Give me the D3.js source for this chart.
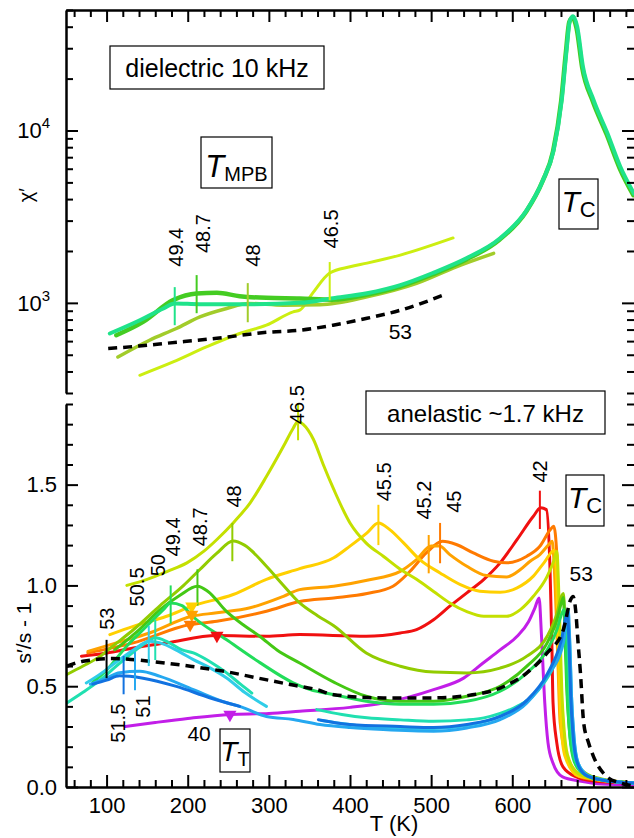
<!DOCTYPE html>
<html>
<head>
<meta charset="utf-8">
<script src="https://cdn.jsdelivr.net/npm/d3@7"></script>
<style>
  html, body { margin: 0; padding: 0; background: #fff; }
  svg { display: block; }
</style>
</head>
<body>
<svg id="chart" width="634" height="838"></svg>
<script>
// ---------------- data ----------------
const tempMajor = [100, 200, 300, 400, 500, 600, 700];
const tempMinor = d3.range(60, 750, 20).filter(t => t % 100 !== 0);
const chiMajor = [1000, 10000];
const chiMinor = [300,400,500,600,700,800,900,2000,3000,4000,5000,6000,7000,8000,9000,20000,30000,40000,50000];
const sMajor = [0, 0.5, 1.0, 1.5];
const sMinor = [0.1,0.2,0.3,0.4,0.6,0.7,0.8,0.9,1.1,1.2,1.3,1.4,1.6,1.7,1.8,1.9];

// dielectric susceptibility chi' at 10 kHz, [T (K), chi']
const dielMain = [[338,1013],[379,1065],[421,1138],[462,1268],[502,1490],[544,1820],[585,2370],[618,3460],[638,5170],[651,7700],[661,15070],[667,29500],[671,43400],[675,46000],[680,40000],[687,23550],[700,15070],[717,9700],[733,6180],[750,4300]];
const diel494 = [[104,664],[141,793],[170,928],[184,992],[215,983],[277,983],[338,1000]];
const diel487 = [[112,649],[145,776],[182,1037],[211,1134],[236,1143],[264,1094],[297,1069],[338,1060]];
const diel48  = [[114,485],[153,607],[186,710],[215,829],[248,928],[275,992],[318,970],[363,975],[421,1084],[482,1297],[531,1619],[577,1937]];
const diel465 = [[141,380],[182,454],[223,555],[264,664],[297,742],[330,887],[338,907],[354,1138],[375,1490],[400,1620],[421,1700],[462,1893],[527,2380]];
const diel53  = [[102,543],[140,562],[174,583],[236,623],[298,675],[338,694],[379,742],[421,814],[462,906],[515,1109]];

// anelastic s'/s - 1 at ~1.7 kHz, [T (K), value]
const anel40 = [[123,0.30],[160,0.32],[200,0.34],[252,0.36],[300,0.365],[338,0.376],[400,0.395],[441,0.417],[503,0.483],[540,0.54],[564,0.615],[585,0.68],[606,0.748],[620,0.82],[628,0.89],[633,0.938],[636,0.75],[640,0.42],[644,0.22],[650,0.12],[662,0.05],[683,0.03],[710,0.015],[750,0.01]];
const anel42 = [[69,0.649],[100,0.665],[133,0.69],[174,0.715],[236,0.751],[297,0.748],[338,0.756],[420,0.748],[462,0.764],[482,0.781],[503,0.83],[523,0.897],[544,0.963],[565,1.03],[585,1.112],[606,1.228],[626,1.343],[635,1.385],[642,1.376],[646.5,1.08],[648.6,0.75],[650.2,0.42],[654.8,0.22],[662.5,0.10],[679,0.05],[700,0.03],[750,0.02]];
const anel45 = [[77,0.665],[133,0.715],[203,0.806],[236,0.822],[297,0.872],[338,0.92],[380,0.938],[421,0.96],[453,0.996],[474,1.07],[494,1.161],[514,1.219],[531,1.203],[552,1.161],[577,1.12],[593,1.112],[618,1.145],[634,1.194],[647,1.277],[651,1.294],[655,1.145],[657,0.814],[659,0.483],[663,0.235],[671,0.103],[688,0.045],[750,0.02]];
const anel452 = [[77,0.673],[112,0.715],[153,0.764],[205,0.847],[236,0.864],[277,0.889],[318,0.946],[338,0.979],[380,0.996],[421,1.026],[462,1.07],[482,1.128],[500,1.195],[510,1.195],[523,1.153],[544,1.095],[568,1.049],[593,1.042],[610,1.079],[622,1.12],[634,1.153],[645,1.203],[649,1.219],[653,0.979],[656,0.649],[659,0.318],[667,0.152],[688,0.053],[750,0.02]];
const anel455 = [[104,0.756],[133,0.797],[174,0.847],[205,0.897],[256,0.955],[297,1.03],[338,1.083],[380,1.137],[400,1.195],[421,1.261],[435,1.31],[449,1.277],[466,1.211],[486,1.128],[511,1.062],[536,1.004],[560,0.971],[585,0.966],[606,0.988],[626,1.046],[639,1.112],[652,1.175],[655,0.979],[657,0.649],[660,0.318],[665,0.152],[682,0.053],[750,0.02]];
const anel465 = [[125,1.0],[150,1.03],[175,1.07],[199,1.112],[220,1.17],[236,1.228],[256,1.31],[277,1.41],[297,1.54],[318,1.69],[330,1.78],[336,1.815],[342,1.80],[355,1.724],[367,1.6],[380,1.476],[400,1.31],[420,1.21],[441,1.145],[462,1.08],[482,1.03],[503,0.97],[523,0.913],[544,0.87],[565,0.847],[593,0.847],[610,0.88],[626,0.946],[643,1.045],[651,1.12],[655,1.17],[657,1.0],[659,0.75],[661,0.48],[664,0.28],[668,0.16],[680,0.07],[700,0.04],[750,0.02]];
const anel48 = [[51,0.558],[71,0.60],[92,0.648],[108,0.70],[133,0.78],[166,0.9],[195,1.0],[215,1.079],[236,1.16],[256,1.22],[270,1.2],[297,1.095],[318,1.0],[338,0.913],[360,0.85],[380,0.80],[420,0.665],[462,0.599],[503,0.57],[544,0.566],[585,0.59],[618,0.649],[643,0.748],[655,0.86],[661,0.95],[663,0.96],[665,0.8],[667,0.6],[669,0.4],[672,0.25],[677,0.14],[690,0.07],[710,0.04],[750,0.02]];
const anel487 = [[110,0.68],[140,0.78],[166,0.88],[190,0.95],[212,0.996],[225,0.97],[248,0.87],[270,0.8],[289,0.747],[310,0.68],[338,0.615],[380,0.52],[420,0.45],[462,0.425],[503,0.425],[544,0.45],[585,0.5],[618,0.6],[643,0.715],[655,0.83],[661,0.92],[663,0.94],[665,0.75],[667,0.5],[670,0.3],[675,0.16],[685,0.08],[705,0.04],[750,0.02]];
const anel494 = [[83,0.52],[100,0.58],[125,0.70],[150,0.80],[170,0.88],[179,0.913],[193,0.9],[206,0.847],[248,0.73],[289,0.617],[330,0.517],[351,0.483],[380,0.458],[420,0.425],[462,0.41],[503,0.41],[544,0.425],[585,0.475],[618,0.566],[643,0.68],[655,0.78],[661,0.86],[664,0.88],[666,0.7],[668,0.45],[671,0.25],[676,0.13],[686,0.07],[705,0.04],[750,0.02]];
const anel50Low  = [[51,0.417],[71,0.47],[92,0.53],[112,0.6],[133,0.67],[150,0.72],[160,0.74],[175,0.72],[193,0.68],[207,0.665],[228,0.62],[248,0.566],[265,0.51],[279,0.466]];
const anel50High = [[359,0.384],[390,0.36],[421,0.343],[462,0.333],[503,0.326],[544,0.333],[565,0.343],[585,0.365],[606,0.40],[625,0.45],[639,0.516],[650,0.59],[659,0.68],[664,0.78],[667,0.847],[669,0.7],[671,0.45],[674,0.25],[679,0.12],[690,0.06],[710,0.035],[750,0.02]];
const anel505Low  = [[75,0.516],[92,0.56],[112,0.62],[133,0.68],[153,0.723],[166,0.715],[190,0.67],[207,0.632],[228,0.59],[248,0.541],[270,0.47],[297,0.40]];
const anel505High = [[365,0.33],[420,0.30],[462,0.29],[503,0.29],[544,0.305],[585,0.35],[618,0.43],[643,0.55],[660,0.70],[668,0.85],[671,0.7],[673,0.45],[676,0.25],[681,0.12],[692,0.06],[712,0.035],[750,0.02]];
const anel51 = [[80,0.51],[100,0.54],[116,0.567],[141,0.574],[166,0.549],[207,0.483],[248,0.418],[264,0.40],[297,0.35],[330,0.335],[363,0.31],[400,0.295],[441,0.285],[503,0.277],[544,0.293],[585,0.334],[618,0.417],[643,0.549],[663,0.715],[669,0.88],[671,0.7],[673,0.45],[676,0.25],[681,0.12],[692,0.06],[712,0.035],[750,0.02]];
const anel515Low  = [[83,0.51],[100,0.53],[116,0.552],[145,0.54],[186,0.499],[227,0.443],[264,0.40]];
const anel515High = [[361,0.334],[400,0.31],[462,0.30],[503,0.295],[544,0.31],[585,0.35],[618,0.43],[643,0.56],[660,0.72],[668,0.86],[670,0.7],[672,0.45],[675,0.25],[680,0.12],[690,0.06],[710,0.035],[750,0.02]];
const anel53 = [[51,0.599],[71,0.624],[108,0.637],[130,0.633],[155,0.623],[205,0.598],[246,0.573],[287,0.54],[328,0.507],[359,0.483],[380,0.458],[441,0.442],[503,0.442],[544,0.453],[585,0.491],[618,0.566],[643,0.665],[663,0.781],[672,0.93],[675,0.945],[678,0.88],[681,0.72],[684,0.566],[688,0.318],[694,0.22],[700,0.152],[716,0.053],[733,0.02],[750,0.005]];

// T_MPB markers: [composition, T, lower, upper]
const dielMarks = [["49.4",184,742,1234],["48.7",211,871,1449],["48",274,772,1302],["46.5",375,1036,1725]];
const anelMarks = [["53",100,0.54,0.73],["51.5",121,0.46,0.65],["51",135,0.48,0.67],["50.5",152,0.60,0.80],["50",160,0.63,0.83],["49.4",179,0.81,1.0],["48.7",212,0.90,1.08],["48",255,1.12,1.31],["46.5",336,1.72,1.90],["45.5",435,1.20,1.40],["45.2",497,1.06,1.25],["45",511,1.11,1.31],["42",634,1.28,1.47]];
// T_T markers: [composition, T, value]
const anelTriangles = [["45.5",205,0.897],["45.2",205,0.855],["45",203,0.806],["42",236,0.751],["40",252,0.359]];
// composition labels: [text, T, value at start of text]
const dielLabels = [["49.4",185,1621],["48.7",219,1945],["48",281,1621],["46.5",377,2070]];
const anelLabels = [["53",100,0.78],["51.5",114.5,0.22],["51",145,0.344],["50.5",138,0.896],["50",163,1.045],["49.4",182,1.144],["48.7",215,1.194],["48",257,1.386],["46.5",335,1.80],["45.5",442,1.417],["45.2",491,1.327],["45",528,1.36],["42",634,1.51]];
const dielFlatLabels = [["53",462,678]];
const anelFlatLabels = [["53",685,1.058],["40",214,0.267]];

// ---------------- styles ----------------
const FONT = '"Liberation Sans", Arial, Helvetica, sans-serif';
const colorOf = {
  "40": "#c21ee8", "42": "#f01010", "45": "#ff7a00", "45.2": "#ffa200", "45.5": "#ffd000",
  "46.5": "#c4e000", "48": "#92cc00", "48.7": "#44c814", "49.4": "#22dd5a", "50": "#20e0b0",
  "50.5": "#30cde8", "51": "#25a8f0", "51.5": "#1272e0", "53": "#000000"
};
const dielColorOf = { "49.4": "#1fe38a", "48.7": "#44cc22", "48": "#a2cc2a", "46.5": "#ccee11" };

// ---------------- scales ----------------
const svg = d3.select("#chart");
svg.append("rect").attr("width", 634).attr("height", 838).attr("fill", "#fff");

const x = d3.scaleLinear().domain([50, 750]).range([66, 634]);
const yTop = d3.scaleLog().domain([300, 50000]).range([393, 10]);
const yBot = d3.scaleLinear().domain([0, 1.9]).range([787, 404]);

const defs = svg.append("defs");
defs.append("clipPath").attr("id", "clipTop").append("rect")
  .attr("x", 66).attr("y", 10).attr("width", 568).attr("height", 383);
defs.append("clipPath").attr("id", "clipBot").append("rect")
  .attr("x", 66).attr("y", 404).attr("width", 568).attr("height", 383);

const lineTop = d3.line().x(d => x(d[0])).y(d => yTop(d[1])).curve(d3.curveMonotoneX);
const lineBot = d3.line().x(d => x(d[0])).y(d => yBot(d[1])).curve(d3.curveMonotoneX);

// ---------------- dielectric panel ----------------
const gTop = svg.append("g").attr("clip-path", "url(#clipTop)");
function drawTop(data, color, w, dash) {
  gTop.append("path").datum(data).attr("d", lineTop)
    .attr("fill", "none").attr("stroke", color).attr("stroke-width", w)
    .attr("stroke-linecap", dash ? "butt" : "round").attr("stroke-linejoin", "round")
    .attr("stroke-dasharray", dash || null);
}
drawTop(diel465, dielColorOf["46.5"], 3);
drawTop(diel48, dielColorOf["48"], 3.5);
drawTop(diel487.concat(dielMain.slice(1).map(d => [d[0] - 0.8, d[1] * 0.98])), dielColorOf["48.7"], 4.5);
drawTop(diel494.concat(dielMain.slice(1)), dielColorOf["49.4"], 4);
drawTop(diel53, "#000", 3.5, "9,6");

svg.append("g").selectAll("line").data(dielMarks).join("line")
  .attr("x1", d => x(d[1])).attr("x2", d => x(d[1]))
  .attr("y1", d => yTop(d[2])).attr("y2", d => yTop(d[3]))
  .attr("stroke", d => dielColorOf[d[0]]).attr("stroke-width", 2);

// ---------------- anelastic panel ----------------
const gBot = svg.append("g").attr("clip-path", "url(#clipBot)");
function drawBot(data, color, w, dash) {
  gBot.append("path").datum(data).attr("d", lineBot)
    .attr("fill", "none").attr("stroke", color).attr("stroke-width", w)
    .attr("stroke-linecap", dash ? "butt" : "round").attr("stroke-linejoin", "round")
    .attr("stroke-dasharray", dash || null);
}
drawBot(anel40, colorOf["40"], 3);
drawBot(anel42, colorOf["42"], 3);
drawBot(anel45, colorOf["45"], 3);
drawBot(anel452, colorOf["45.2"], 3);
drawBot(anel455, colorOf["45.5"], 3);
drawBot(anel465, colorOf["46.5"], 3);
drawBot(anel48, colorOf["48"], 3);
drawBot(anel487, colorOf["48.7"], 3);
drawBot(anel494, colorOf["49.4"], 3);
drawBot(anel50Low, colorOf["50"], 3);
drawBot(anel50High, colorOf["50"], 3);
drawBot(anel505Low, colorOf["50.5"], 3);
drawBot(anel505High, colorOf["50.5"], 3);
drawBot(anel51, colorOf["51"], 3);
drawBot(anel515Low, colorOf["51.5"], 3);
drawBot(anel515High, colorOf["51.5"], 3);
drawBot(anel53, "#000", 3.5, "9,6");

svg.append("g").selectAll("line").data(anelMarks).join("line")
  .attr("x1", d => x(d[1])).attr("x2", d => x(d[1]))
  .attr("y1", d => yBot(d[2])).attr("y2", d => yBot(d[3]))
  .attr("stroke", d => colorOf[d[0]]).attr("stroke-width", 2);

const tri = d3.symbol().type(d3.symbolTriangle).size(75);
svg.append("g").selectAll("path").data(anelTriangles).join("path")
  .attr("d", tri)
  .attr("transform", d => `translate(${x(d[1])},${yBot(d[2])}) rotate(180)`)
  .attr("fill", d => colorOf[d[0]]);

// ---------------- composition labels ----------------
function vLabels(data, yS) {
  svg.append("g").selectAll("text").data(data).join("text")
    .attr("transform", d => `translate(${x(d[1])},${yS(d[2])}) rotate(-90)`)
    .attr("dy", "0.35em").attr("text-anchor", "start")
    .attr("font-family", FONT).attr("font-size", 20).attr("fill", "#000")
    .text(d => d[0]);
}
vLabels(dielLabels, yTop);
vLabels(anelLabels, yBot);
function hLabels(data, yS) {
  svg.append("g").selectAll("text").data(data).join("text")
    .attr("x", d => x(d[1])).attr("y", d => yS(d[2]))
    .attr("dy", "0.35em").attr("text-anchor", "middle")
    .attr("font-family", FONT).attr("font-size", 21).attr("fill", "#000")
    .text(d => d[0]);
}
hLabels(dielFlatLabels, yTop);
hLabels(anelFlatLabels, yBot);

// ---------------- axes ----------------
function styleAxis(g, hideDomain) {
  g.attr("font-family", FONT).attr("font-size", 22);
  g.selectAll("path.domain").attr("stroke", "#000").attr("stroke-width", 2.5)
    .attr("display", hideDomain ? "none" : null);
  g.selectAll(".tick line").attr("stroke", "#000").attr("stroke-width", 2);
  g.selectAll(".tick text").attr("fill", "#000");
}
function addAxis(axis, transform, hideDomain) {
  const g = svg.append("g").attr("transform", transform).call(axis);
  styleAxis(g, hideDomain);
  return g;
}
// bottom temperature axis
addAxis(d3.axisBottom(x).tickValues(tempMajor).tickSize(-12).tickSizeOuter(0).tickPadding(10).tickFormat(d3.format("d")), "translate(0,787)");
addAxis(d3.axisBottom(x).tickValues(tempMinor).tickSize(-7).tickSizeOuter(0).tickFormat(""), "translate(0,787)", true);
// top temperature axis (dielectric panel)
addAxis(d3.axisTop(x).tickValues(tempMajor).tickSize(-12).tickSizeOuter(0).tickFormat(""), "translate(0,10)");
addAxis(d3.axisTop(x).tickValues(tempMinor).tickSize(-7).tickSizeOuter(0).tickFormat(""), "translate(0,10)", true);
// dielectric vertical axes
addAxis(d3.axisLeft(yTop).tickValues(chiMajor).tickSize(-12).tickSizeOuter(0).tickFormat(""), "translate(66,0)");
addAxis(d3.axisLeft(yTop).tickValues(chiMinor).tickSize(-7).tickSizeOuter(0).tickFormat(""), "translate(66,0)", true);
addAxis(d3.axisRight(yTop).tickValues(chiMajor).tickSize(-12).tickSizeOuter(0).tickFormat(""), "translate(634,0)", true);
addAxis(d3.axisRight(yTop).tickValues(chiMinor).tickSize(-7).tickSizeOuter(0).tickFormat(""), "translate(634,0)", true);
// anelastic vertical axes
addAxis(d3.axisLeft(yBot).tickValues(sMajor).tickSize(-12).tickSizeOuter(0).tickPadding(9).tickFormat(d3.format(".1f")), "translate(66,0)");
addAxis(d3.axisLeft(yBot).tickValues(sMinor).tickSize(-7).tickSizeOuter(0).tickFormat(""), "translate(66,0)", true);
addAxis(d3.axisRight(yBot).tickValues(sMajor).tickSize(-12).tickSizeOuter(0).tickFormat(""), "translate(634,0)", true);
addAxis(d3.axisRight(yBot).tickValues(sMinor).tickSize(-7).tickSizeOuter(0).tickFormat(""), "translate(634,0)", true);

// power-of-ten labels
const powLabels = svg.append("g").selectAll("text").data(chiMajor).join("text")
  .attr("x", 50).attr("y", d => yTop(d)).attr("dy", "0.35em")
  .attr("text-anchor", "end").attr("font-family", FONT).attr("font-size", 22).attr("fill", "#000");
powLabels.append("tspan").text("10");
powLabels.append("tspan").attr("font-size", 15).attr("dy", -10).text(d => Math.round(Math.log10(d)));

// axis titles
svg.append("text").attr("transform", "translate(33,195) rotate(-90)")
  .attr("text-anchor", "middle").attr("font-family", FONT).attr("font-size", 20).text("χ′");
svg.append("text").attr("transform", "translate(31,633) rotate(-90)")
  .attr("text-anchor", "middle").attr("font-family", FONT).attr("font-size", 21).text("s′/s - 1");
svg.append("text").attr("x", 394).attr("y", 831)
  .attr("text-anchor", "middle").attr("font-family", FONT).attr("font-size", 22).text("T (K)");

// ---------------- boxed annotations ----------------
function box(x0, y0, w, h) {
  svg.append("rect").attr("x", x0).attr("y", y0).attr("width", w).attr("height", h)
    .attr("fill", "#fff").attr("stroke", "#000").attr("stroke-width", 1.2);
}
function boxText(cx, by, str, size) {
  svg.append("text").attr("x", cx).attr("y", by).attr("text-anchor", "middle")
    .attr("font-family", FONT).attr("font-size", size).text(str);
}
function boxSymbol(cx, by, sub, bigSize, subSize, shift) {
  const t = svg.append("text").attr("x", cx).attr("y", by).attr("text-anchor", "middle")
    .attr("font-family", FONT);
  t.append("tspan").attr("font-style", "italic").attr("font-size", bigSize).text("T");
  t.append("tspan").attr("font-size", subSize).attr("dy", shift).text(sub);
}
box(110, 46, 214, 43); boxText(217, 77, "dielectric 10 kHz", 25);
box(366, 391, 239, 43); boxText(485.5, 422, "anelastic ~1.7 kHz", 24);
box(201, 137, 71, 51); boxSymbol(236.5, 177, "MPB", 31, 20, 4);
box(559, 179, 39, 50); boxSymbol(578.5, 212, "C", 30, 22, 5);
box(566, 475, 38, 51); boxSymbol(585, 508, "C", 30, 22, 5);
box(220, 729, 30, 43); boxSymbol(235, 761, "T", 28, 20, 5);
</script>
</body>
</html>
